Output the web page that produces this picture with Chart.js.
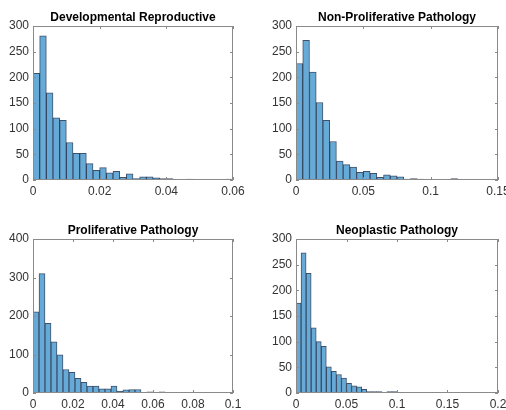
<!DOCTYPE html>
<html>
<head>
<meta charset="utf-8">
<script src="https://cdn.jsdelivr.net/npm/chart.js@4.4.1/dist/chart.umd.min.js"></script>
<style>
body{margin:0;background:#fff;width:506px;height:410px;overflow:hidden;position:relative}
canvas{position:absolute}
</style>
</head>
<body>
<canvas id="devRep" width="253" height="205" style="left:0;top:0"></canvas>
<canvas id="nonProlif" width="253" height="205" style="left:253px;top:0"></canvas>
<canvas id="prolif" width="253" height="205" style="left:0;top:213px"></canvas>
<canvas id="neo" width="253" height="205" style="left:253px;top:213px"></canvas>
<script>
// histogram counts per bin
const devRepCounts = [208, 281, 170, 121, 116, 73, 52, 52, 32, 19, 24, 14, 17, 5, 12, 3, 6, 6, 4, 3, 3, 1, 0, 2, 0, 0, 0, 0, 0, 2];
const nonProlifCounts = [227, 272, 210, 151, 116, 75, 37, 30, 25, 15, 17, 13, 5, 10, 8, 6, 2, 3, 2, 1, 1, 0, 1, 3, 0, 1, 0, 0, 0, 0];
const prolifCounts = [211, 310, 181, 133, 99, 61, 54, 38, 28, 18, 18, 11, 11, 18, 5, 8, 9, 9, 2, 3, 2, 3, 1, 1, 0, 0, 0, 0, 1, 0, 0, 0, 0];
const neoCounts = [175, 273, 233, 127, 100, 91, 51, 42, 36, 29, 19, 14, 12, 7, 3, 3, 3, 1, 3, 3, 1, 0, 1, 0, 0, 0, 1, 0, 0, 0, 0, 0, 0, 0, 0, 1, 0, 0, 0, 0];

const binWidths = [0.002, 0.005, 0.003, 0.005];
const titles = ['Developmental Reproductive', 'Non-Proliferative Pathology', 'Proliferative Pathology', 'Neoplastic Pathology'];

const xTicks = [[0, 0.02, 0.04, 0.06], [0, 0.05, 0.1, 0.15], [0, 0.02, 0.04, 0.06, 0.08, 0.1], [0, 0.05, 0.1, 0.15, 0.2]];
const xTickLabels = [['0', '0.02', '0.04', '0.06'], ['0', '0.05', '0.1', '0.15'], ['0', '0.02', '0.04', '0.06', '0.08', '0.1'], ['0', '0.05', '0.1', '0.15', '0.2']];
const yTicks = [[0, 50, 100, 150, 200, 250, 300], [0, 50, 100, 150, 200, 250, 300], [0, 100, 200, 300, 400], [0, 50, 100, 150, 200, 250, 300]];

const ids = ['devRep', 'nonProlif', 'prolif', 'neo'];
const allCounts = [devRepCounts, nonProlifCounts, prolifCounts, neoCounts];

const FONT = '"Liberation Sans", Helvetica, Arial, sans-serif';

// matlab-like box with inward ticks, plus title centred over the axes
const boxPlugin = {
  id: 'matlabBox',
  afterDatasetsDraw(chart, args, opts) {
    const {ctx, chartArea: a, scales: {x, y}} = chart;
    ctx.save();
    ctx.strokeStyle = '#8a8a8a';
    ctx.lineWidth = 1;
    ctx.strokeRect(Math.round(a.left) + 0.5, Math.round(a.top) + 0.5, Math.round(a.right - a.left) - 1, Math.round(a.bottom - a.top) - 1);
    ctx.beginPath();
    x.ticks.forEach(t => {
      const px = Math.round(x.getPixelForValue(t.value)) + 0.5;
      ctx.moveTo(px, a.bottom); ctx.lineTo(px, a.bottom - 3);
      ctx.moveTo(px, a.top); ctx.lineTo(px, a.top + 3);
    });
    y.ticks.forEach(t => {
      const py = Math.round(y.getPixelForValue(t.value)) + 0.5;
      ctx.moveTo(a.left, py); ctx.lineTo(a.left + 3, py);
      ctx.moveTo(a.right, py); ctx.lineTo(a.right - 3, py);
    });
    ctx.stroke();
    ctx.fillStyle = '#000';
    ctx.font = 'bold 12px ' + FONT;
    ctx.textAlign = 'center';
    ctx.textBaseline = 'alphabetic';
    ctx.fillText(opts.text, (a.left + a.right) / 2, a.top - 5);
    ctx.restore();
  }
};

ids.forEach((id, k) => {
  const counts = allCounts[k];
  const bw = binWidths[k];
  const xt = xTicks[k];
  const yt = yTicks[k];
  const isLeft = (k % 2 === 0);
  new Chart(document.getElementById(id).getContext('2d'), {
    type: 'bar',
    data: {
      datasets: [{
        data: counts.map((c, i) => ({x: (i + 0.5) * bw, y: c})),
        backgroundColor: 'rgb(102,170,215)',
        borderColor: 'rgba(30,50,80,0.85)',
        borderWidth: 1,
        barPercentage: 1,
        categoryPercentage: 1
      }]
    },
    options: {
      responsive: false,
      animation: false,
      events: [],
      layout: {padding: {left: 0, right: isLeft ? 20 : 8, top: 26, bottom: 0}},
      plugins: {
        legend: {display: false},
        tooltip: {enabled: false},
        title: {display: false},
        matlabBox: {text: titles[k]}
      },
      scales: {
        x: {
          type: 'linear',
          offset: false,
          min: xt[0],
          max: xt[xt.length - 1],
          grid: {display: false, drawTicks: false},
          border: {display: false},
          afterBuildTicks: s => { s.ticks = xt.map(v => ({value: v})); },
          afterFit: s => { s.height = 25; s.paddingLeft = 0; s.paddingRight = 0; },
          ticks: {
            color: '#333',
            font: {family: FONT, size: 12},
            padding: 4,
            maxRotation: 0,
            autoSkip: false,
            callback: (v, i) => xTickLabels[k][i]
          }
        },
        y: {
          min: yt[0],
          max: yt[yt.length - 1],
          grid: {display: false, drawTicks: false},
          border: {display: false},
          afterBuildTicks: s => { s.ticks = yt.map(v => ({value: v})); },
          afterFit: s => { s.width = isLeft ? 33 : 43; s.paddingTop = 0; s.paddingBottom = 0; },
          ticks: {
            color: '#333',
            font: {family: FONT, size: 12},
            padding: 4,
            autoSkip: false
          }
        }
      }
    },
    plugins: [boxPlugin]
  });
});
</script>
</body>
</html>
